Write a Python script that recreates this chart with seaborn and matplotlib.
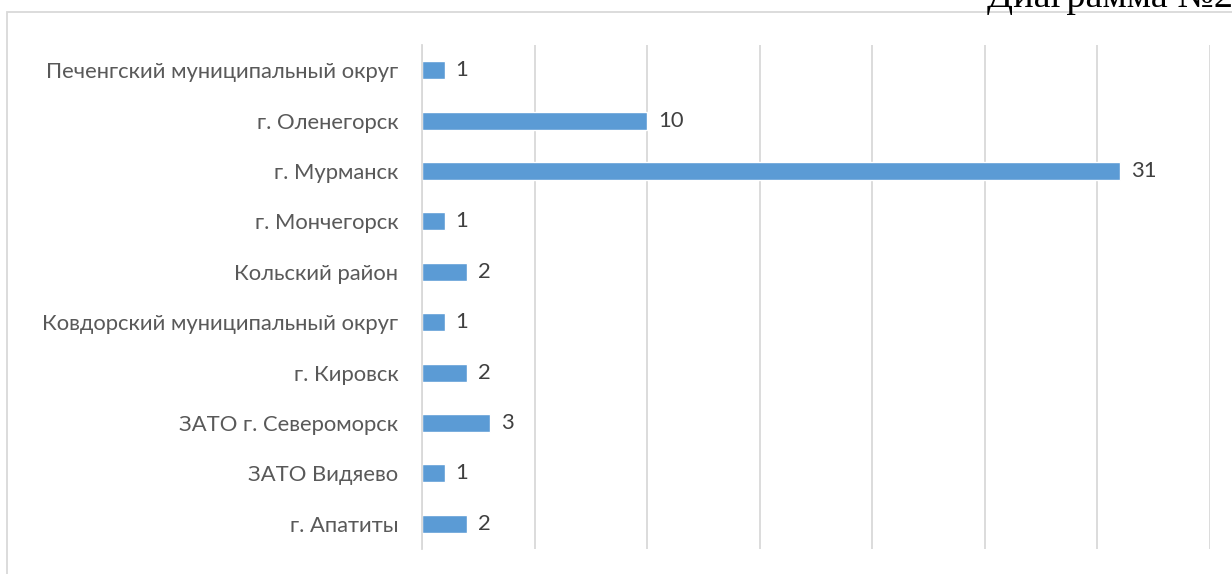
import matplotlib
matplotlib.use('Agg')
import matplotlib.pyplot as plt
from matplotlib.patches import Rectangle
import seaborn as sns
import pandas as pd

# данные по районам (сверху вниз)
districts = [
    'Печенгский муниципальный округ',
    'г. Оленегорск',
    'г. Мурманск',
    'г. Мончегорск',
    'Кольский район',
    'Ковдорский муниципальный округ',
    'г. Кировск',
    'ЗАТО г. Североморск',
    'ЗАТО Видяево',
    'г. Апатиты',
]
counts = [1, 10, 31, 1, 2, 1, 2, 3, 1, 2]

df = pd.DataFrame({'district': districts, 'count': counts})

sns.set_style('white')
plt.rcParams['font.family'] = ['Lato', 'Open Sans', 'DejaVu Sans']

W, H = 1232, 574
fig = plt.figure(figsize=(W / 100, H / 100), dpi=100)
ax = fig.add_axes([422 / W, 25 / H, 788 / W, 504 / H])

sns.barplot(data=df, x='count', y='district', orient='h', color='#5B9BD5',
            width=0.36, saturation=1, ax=ax)

ax.set_xlim(0, 35)
ax.set_xticks(range(0, 36, 5))
ax.xaxis.grid(True, color='#D9D9D9', linewidth=1.3)
ax.set_axisbelow(True)
ax.tick_params(axis='x', labelbottom=False, length=0)
ax.tick_params(axis='y', length=0, pad=17, labelsize=15.8, labelcolor='#595959')
ax.set_xlabel('')
ax.set_ylabel('')
for side in ['top', 'right', 'bottom']:
    ax.spines[side].set_visible(False)
ax.spines['left'].set_color('#D9D9D9')
ax.spines['left'].set_linewidth(1.3)

ax.bar_label(ax.containers[0], padding=8, fontsize=15.8, color='#404040')

# рамка области диаграммы
fig.add_artist(Rectangle((7 / W, -0.1), 1.2, (H - 12) / H + 0.1,
                         transform=fig.transFigure, fill=False,
                         edgecolor='#D9D9D9', linewidth=1.3))

# заголовок, обрезанный краем (как в исходнике)
fig.text(987 / W, 1 - 7 / H, 'Диаграмма №2 с', fontsize=27.5,
         family=['Liberation Serif', 'DejaVu Serif'], color='black',
         ha='left', va='baseline')

fig.savefig('out.png', dpi=100, facecolor='white')
